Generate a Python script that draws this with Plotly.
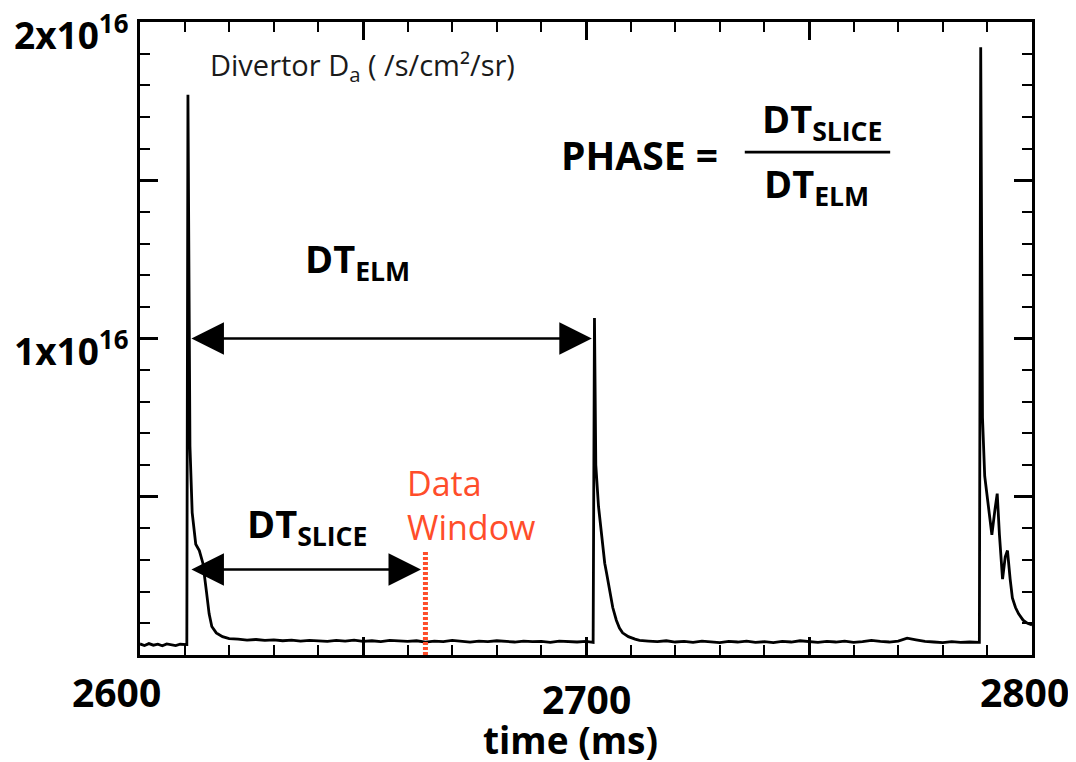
import plotly.graph_objects as go

# ---------------- data (signal in units of 1e16 /s/cm2/sr) ----------------
pre_t = [2600, 2601, 2602, 2603, 2604, 2605, 2606, 2607, 2608, 2609, 2610.5]
pre_v = [0.035, 0.030, 0.036, 0.031, 0.034, 0.029, 0.035, 0.032, 0.030, 0.034, 0.033]

elm1_t = [2610.75, 2611.2, 2611.7, 2612.5, 2613.3, 2614.1, 2614.9, 2615.5, 2616.1, 2617.1, 2618.5]
elm1_v = [1.77, 0.66, 0.45, 0.35, 0.33, 0.29, 0.20, 0.13, 0.09, 0.07, 0.058]

base1_t = [2620, 2622, 2624, 2626, 2628, 2630, 2632, 2634, 2636, 2638,
           2640, 2642, 2644, 2646, 2648, 2650, 2652, 2654, 2656, 2658,
           2660, 2662, 2664, 2666, 2668, 2670, 2672, 2674, 2676, 2678,
           2680, 2682, 2684, 2686, 2688, 2690, 2692, 2694, 2696, 2698,
           2700, 2701.6]
base1_v = [0.052, 0.050, 0.047, 0.049, 0.046, 0.048, 0.045, 0.047, 0.044, 0.046,
           0.045, 0.043, 0.046, 0.044, 0.047, 0.043, 0.045, 0.042, 0.046, 0.044,
           0.043, 0.045, 0.041, 0.044, 0.042, 0.046, 0.043, 0.041, 0.044, 0.042,
           0.045, 0.043, 0.041, 0.044, 0.042, 0.043, 0.040, 0.044, 0.042, 0.041,
           0.043, 0.040]

elm2_t = [2701.9, 2702.2, 2702.8, 2703.5, 2704.2, 2704.6, 2705.3, 2706.0, 2706.8, 2707.5, 2708.2, 2709.5, 2711.0]
elm2_v = [1.065, 0.60, 0.47, 0.37, 0.29, 0.26, 0.20, 0.15, 0.11, 0.085, 0.07, 0.058, 0.050]

base2_t = [2712, 2714, 2716, 2718, 2720, 2722, 2724, 2726, 2728, 2730,
           2732, 2734, 2736, 2738, 2740, 2742, 2744, 2746, 2748, 2750,
           2752, 2754, 2756, 2758, 2760, 2762, 2764, 2766, 2768, 2770,
           2772, 2774, 2776, 2778, 2780, 2782, 2784, 2786, 2788.2]
base2_v = [0.046, 0.044, 0.042, 0.045, 0.041, 0.043, 0.040, 0.044, 0.042, 0.039,
           0.043, 0.041, 0.044, 0.040, 0.042, 0.039, 0.043, 0.041, 0.045, 0.042,
           0.040, 0.043, 0.041, 0.044, 0.040, 0.042, 0.046, 0.043, 0.041, 0.044,
           0.053, 0.048, 0.043, 0.041, 0.039, 0.042, 0.040, 0.041, 0.040]

elm3_t = [2788.5, 2788.9, 2789.4, 2790.3, 2791.0, 2791.7, 2792.2, 2792.7, 2793.4,
          2794.0, 2794.5, 2795.1, 2795.6, 2796.3, 2797.0, 2798.0, 2799.0, 2800.0]
elm3_v = [1.92, 0.75, 0.565, 0.45, 0.38, 0.46, 0.51, 0.38, 0.24,
          0.31, 0.33, 0.24, 0.18, 0.15, 0.13, 0.11, 0.10, 0.095]

# schematic markers
elm_start_t = 2611.2      # DT arrows start
elm_next_t = 2701.3       # DT_ELM arrow end
dt_elm_level = 1.0
window_t = 2664.0         # data window position
slice_end_t = 2663.0
dt_slice_level = 0.27
window_top = 0.33

x_ticklabels = [2600, 2700, 2800]
y_labelvals = [1.0, 2.0]
y_labeltext = ["1x10<sup>16</sup>", "2x10<sup>16</sup>"]

# ---------------------------------------------------------------------------
t_all = pre_t + elm1_t + base1_t + elm2_t + base2_t + elm3_t
v_all = pre_v + elm1_v + base1_v + elm2_v + base2_v + elm3_v

FONT = "Open Sans"
RED = "#ff4d2a"

fig = go.Figure()
fig.add_trace(go.Scatter(x=t_all, y=v_all, mode="lines",
                         line=dict(color="black", width=2.8), showlegend=False,
                         hoverinfo="skip"))
fig.add_trace(go.Scatter(x=[window_t, window_t], y=[0, window_top], mode="lines",
                         line=dict(color=RED, width=5, dash="3px,2px"),
                         showlegend=False, hoverinfo="skip"))

axis_common = dict(showline=True, linewidth=3, linecolor="black", mirror="allticks",
                   ticks="inside", tickwidth=3, tickcolor="black", showgrid=False,
                   zeroline=False, showticklabels=False)

fig.update_xaxes(range=[2600, 2800], tick0=2600, dtick=50, ticklen=18,
                 minor=dict(ticks="inside", dtick=10, ticklen=10, tickwidth=2,
                            tickcolor="black"),
                 **axis_common)
fig.update_yaxes(range=[0, 2.0], tick0=0, dtick=0.5, ticklen=18,
                 minor=dict(ticks="inside", dtick=0.1, ticklen=10, tickwidth=2,
                            tickcolor="black"),
                 **axis_common)

ann = []
# x tick labels
xshifts = {2600: -24, 2700: 0, 2800: -8}
yshifts = {2600: -36, 2700: -43, 2800: -36}
for xv in x_ticklabels:
    ann.append(dict(x=xv, y=0, xref="x", yref="paper", yanchor="middle",
                    yshift=yshifts[xv], xshift=xshifts[xv], text=f"<b>{xv}</b>",
                    showarrow=False, font=dict(family=FONT, size=39, color="black")))
# y tick labels
for yv, txt in zip(y_labelvals, y_labeltext):
    ann.append(dict(x=0, y=yv, xref="paper", yref="y", xanchor="right", yanchor="middle",
                    xshift=-10, yshift=-10, text=f"<b>{txt}</b>", showarrow=False,
                    font=dict(family=FONT, size=37, color="black")))
# axis title
ann.append(dict(x=0.483, y=0, xref="paper", yref="paper", yanchor="middle", yshift=-84,
                text="<b>time (ms)</b>", showarrow=False,
                font=dict(family=FONT, size=37, color="black")))
# signal label
ann.append(dict(x=2615.3, y=1.86, xref="x", yref="y", xanchor="left", yanchor="middle",
                text="Divertor D<sub>a</sub> ( /s/cm²/sr)", showarrow=False,
                font=dict(family=FONT, size=29, color="#1a1a1a")))
# PHASE formula
ann.append(dict(x=2712.1, y=1.58, xref="x", yref="y", text="<b>PHASE =</b>",
                showarrow=False, font=dict(family=FONT, size=39, color="black")))
ann.append(dict(x=2753.0, y=1.69, xref="x", yref="y", text="<b>DT<sub>SLICE</sub></b>",
                showarrow=False, font=dict(family=FONT, size=38, color="black")))
ann.append(dict(x=2751.6, y=1.485, xref="x", yref="y", text="<b>DT<sub>ELM</sub></b>",
                showarrow=False, font=dict(family=FONT, size=38, color="black")))
# DT labels
ann.append(dict(x=2648.7, y=1.245, xref="x", yref="y", text="<b>DT<sub>ELM</sub></b>",
                showarrow=False, font=dict(family=FONT, size=38, color="black")))
ann.append(dict(x=2637.4, y=0.41, xref="x", yref="y", text="<b>DT<sub>SLICE</sub></b>",
                showarrow=False, font=dict(family=FONT, size=38, color="black")))
# Data window label
ann.append(dict(x=2659.5, y=0.545, xref="x", yref="y", xanchor="left", text="Data",
                showarrow=False, font=dict(family=FONT, size=34, color=RED)))
ann.append(dict(x=2659.5, y=0.405, xref="x", yref="y", xanchor="left", text="Window",
                showarrow=False, font=dict(family=FONT, size=34, color=RED)))
# double arrows
for (x0, x1, lev) in [(elm_start_t, elm_next_t, dt_elm_level),
                      (elm_start_t, slice_end_t, dt_slice_level)]:
    ann.append(dict(x=x1, y=lev, ax=x0, ay=lev, xref="x", yref="y", axref="x", ayref="y",
                    text="", showarrow=True, arrowhead=2, startarrowhead=2,
                    arrowside="end+start", arrowsize=2.5, startarrowsize=2.5,
                    arrowwidth=2.6, arrowcolor="black"))

# page body has an 8px margin, so the figure is sized to fit the window
fig.update_layout(
    width=1068, height=754,
    margin=dict(l=132, r=44, t=14, b=107),
    paper_bgcolor="white", plot_bgcolor="white",
    annotations=ann,
    shapes=[dict(type="line", xref="x", yref="y", x0=2735.6, x1=2768.2, y0=1.589, y1=1.589,
                 line=dict(color="black", width=2.6))],
)

fig.write_html("out.html")
